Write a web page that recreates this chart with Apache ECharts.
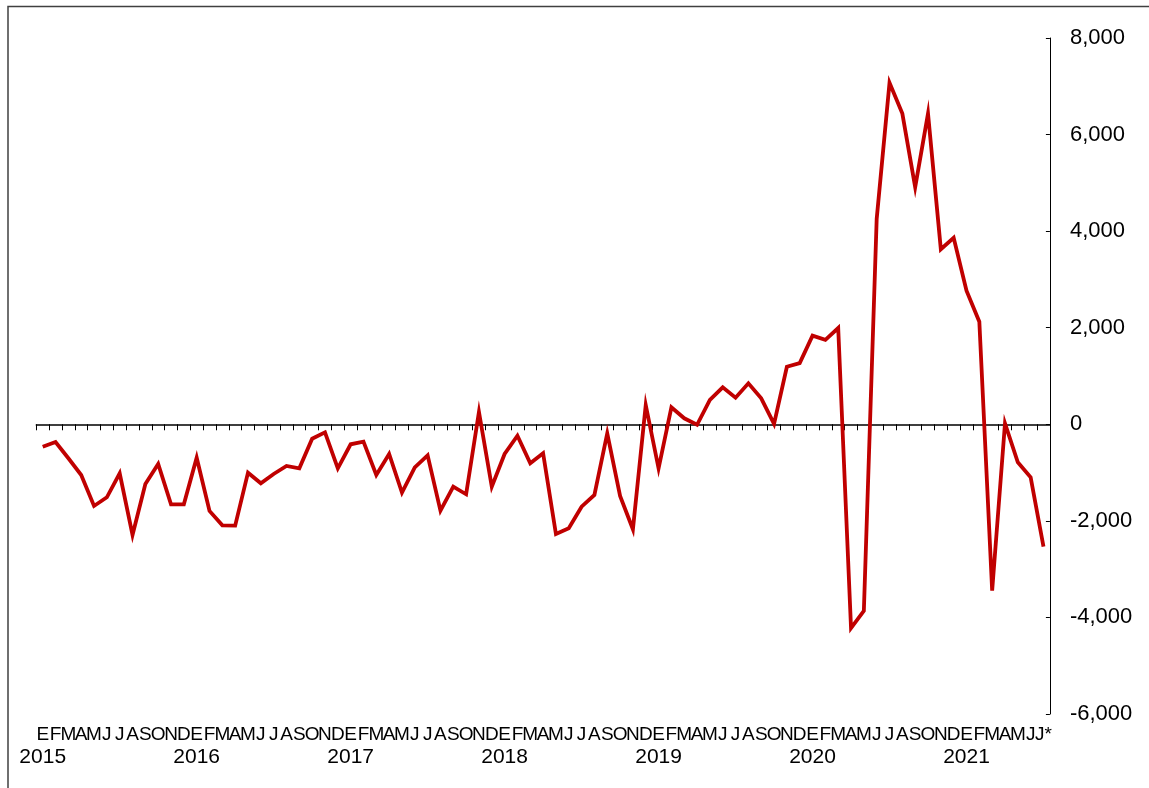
<!DOCTYPE html>
<html>
<head>
<meta charset="utf-8">
<title>Balanza</title>
<script src="https://cdn.jsdelivr.net/npm/echarts@6/dist/echarts.min.js"></script>
<style>
  html, body { margin: 0; padding: 0; background: #fff; }
  #chart { width: 1149px; height: 788px; }
</style>
</head>
<body>
<div id="chart"></div>
<script>
// meses (ene 2015 - jul 2021)
const monthLetters = ['E', 'F', 'M', 'A', 'M', 'J', 'J', 'A', 'S', 'O', 'N', 'D']
const years = ['2015', '2016', '2017', '2018', '2019', '2020', '2021']
const lastMonthLabel = 'J*'

// millones de dólares
const values2015 = [-464, -367, -704, -1050, -1692, -1512, -1015, -2293, -1236, -822, -1657, -1657]
const values2016 = [-692, -1795, -2092, -2099, -1002, -1222, -1029, -864, -912, -298, -166, -912]
const values2017 = [-414, -360, -1050, -615, -1416, -891, -642, -1789, -1292, -1450, 255, -1292]
const values2018 = [-615, -236, -808, -601, -2272, -2154, -1706, -1464, -187, -1485, -2175, 400]
const values2019 = [-912, 352, 124, -10, 503, 766, 551, 849, 538, 10, 1191, 1267]
const values2020 = [1835, 1748, 1994, -4220, -3862, 4252, 7071, 6435, 4912, 6435, 3625, 3862]
const values2021 = [2767, 2125, -3446, 20, -787, -1098, -2535]

const yTicks = [-6000, -4000, -2000, 0, 2000, 4000, 6000, 8000]

const values = [].concat(values2015, values2016, values2017, values2018, values2019, values2020, values2021)

const categories = []
const monthLabels = []
const yearLabels = []
values.forEach((v, i) => {
  const m = i % 12
  const y = years[Math.floor(i / 12)]
  categories.push(y + '-' + (m + 1))
  monthLabels.push(i === values.length - 1 ? lastMonthLabel : monthLetters[m])
  yearLabels.push(m === 0 ? y : '')
})

const font = 'Liberation Sans, Arial, sans-serif'
const chart = echarts.init(document.getElementById('chart'), null, { renderer: 'canvas' })

chart.setOption({
  animation: false,
  backgroundColor: '#fff',
  graphic: [
    {
      type: 'polyline',
      shape: { points: [[8, 788], [8, 6.5], [1149, 6.5]] },
      style: { stroke: '#404040', lineWidth: 1.5, fill: null },
      silent: true
    },
    {
      type: 'text',
      x: 598,
      y: 4,
      style: {
        text: 'Millones de dólares',
        font: '18px ' + font,
        fill: '#555',
        align: 'center',
        verticalAlign: 'bottom'
      },
      silent: true
    }
  ],
  grid: {
    left: 36.3,
    right: 99.1,
    top: 38,
    bottom: 74,
    containLabel: false
  },
  xAxis: [{
    type: 'category',
    data: categories,
    boundaryGap: true,
    axisLine: { onZero: true, lineStyle: { color: '#000', width: 1.5 } },
    axisTick: { show: true, length: 6, lineStyle: { color: '#000', width: 1 }, interval: 0 },
    axisLabel: { show: false },
    splitLine: { show: false }
  }, {
    type: 'category',
    data: monthLabels,
    position: 'bottom',
    boundaryGap: true,
    axisLine: { show: false, onZero: false },
    axisTick: { show: false },
    axisLabel: {
      interval: 0,
      hideOverlap: false,
      margin: 11,
      fontSize: 19,
      color: '#000',
      fontFamily: font
    },
    splitLine: { show: false }
  }, {
    type: 'category',
    data: yearLabels,
    position: 'bottom',
    boundaryGap: true,
    axisLine: { show: false, onZero: false },
    axisTick: { show: false },
    axisLabel: {
      interval: 0,
      hideOverlap: false,
      margin: 33,
      fontSize: 21,
      color: '#000',
      fontFamily: font
    },
    splitLine: { show: false }
  }],
  yAxis: {
    type: 'value',
    position: 'right',
    min: yTicks[0],
    max: yTicks[yTicks.length - 1],
    interval: 2000,
    axisLine: { show: true, lineStyle: { color: '#000', width: 1 } },
    axisTick: { show: true, inside: true, length: 4, lineStyle: { color: '#000' } },
    axisLabel: {
      margin: 20,
      fontSize: 22,
      color: '#000',
      fontFamily: font,
      formatter: v => v.toLocaleString('en-US')
    },
    splitLine: { show: false }
  },
  series: [{
    type: 'line',
    data: values,
    xAxisIndex: 0,
    showSymbol: false,
    symbol: 'none',
    lineStyle: { color: '#c00000', width: 3.8, join: 'miter' },
    z: 3
  }]
})
</script>
</body>
</html>
